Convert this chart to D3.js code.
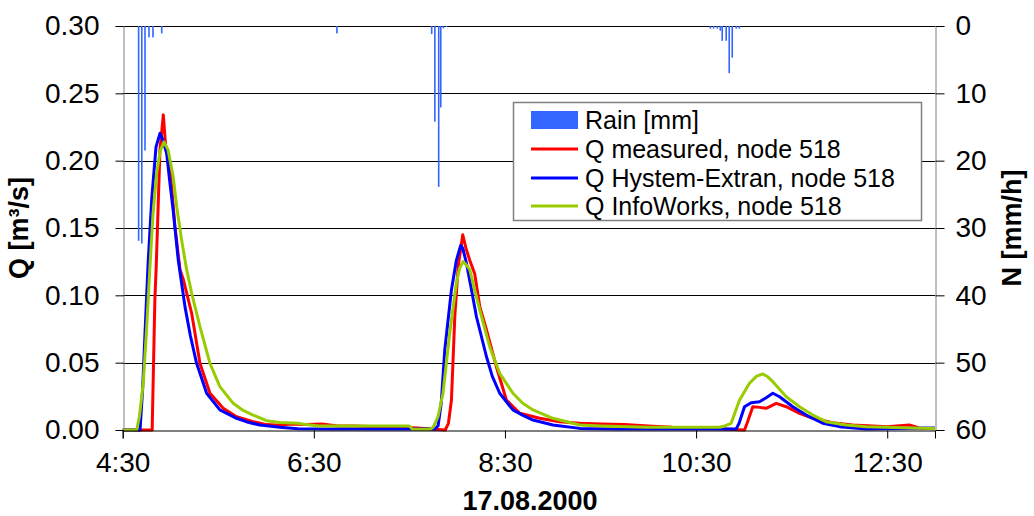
<!DOCTYPE html>
<html><head><meta charset="utf-8">
<script src="https://cdn.jsdelivr.net/npm/d3@7"></script>
<style>
html,body{margin:0;padding:0;background:#fff;}
svg{display:block;font-family:"Liberation Sans",Arial,sans-serif;}
</style></head>
<body>
<svg id="chart" width="1034" height="516"></svg>
<script>
// time in minutes since midnight, 17.08.2000
const xTickValues = [270, 390, 510, 630, 750];
const xTickLabels = ["4:30", "6:30", "8:30", "10:30", "12:30"];
const qTicks = [0, 0.05, 0.10, 0.15, 0.20, 0.25, 0.30];
const nTicks = [0, 10, 20, 30, 40, 50, 60];

// Rain intensity [mm/h]: [minute, value]
const rain = [
  [280,31.9],[282,32.3],[284,18.5],[286.5,1.7],[289,1.7],[294.5,1.1],[404.5,1.1],
  [464,1.2],[466,14.2],[468.4,23.9],[469.7,12.1],[471.4,0.35],[473.3,0.15],
  [639,0.4],[641,0.4],[643.3,0.4],[645.2,0.7],[646.4,2.2],[648.9,2.2],[650.8,7.0],[652.7,4.7],[655.2,0.4],[657.1,0.4]
];

const qMeasured = [
  [270,0],[288.5,0],[290.2,0.097],[291,0.12],[293.4,0.208],[295.5,0.234],[297,0.21],[299.7,0.195],[302.8,0.151],[306,0.119],[308,0.112],
  [313.3,0.0867],[318.5,0.0495],[324.8,0.0273],[333.1,0.0161],[341.5,0.0099],[351.9,0.0062],[360.3,0.004],[368.7,0.0035],[375,0.0045],
  [385,0.004],[395,0.0045],[405,0.003],[415,0.003],[430,0.0025],[445,0.002],[455,0.0015],[472.5,0],[474.5,0.005],[476.4,0.0223],
  [478.5,0.0841],[480.6,0.121],[483.5,0.145],[485.5,0.135],[487.9,0.126],[491,0.116],[494.2,0.0916],[498.4,0.0743],[504.6,0.047],
  [510.9,0.0223],[519.3,0.0124],[531.8,0.0087],[544.3,0.0062],[556.9,0.005],[570,0.0045],[585,0.004],[600,0.003],[615,0.002],
  [630,0.0015],[645,0.001],[660.4,0],[662,0.005],[665.6,0.0173],[670,0.0168],[674,0.0161],[680.3,0.0198],[686.6,0.0173],
  [694.9,0.0124],[703.3,0.0087],[715.8,0.0054],[728.3,0.0037],[740.9,0.003],[750,0.0025],[763.9,0.0037],[770,0.0015],[780,0.001]
];

const qHystem = [
  [270,0],[280.9,0],[282.5,0.03],[284,0.0718],[286,0.125],[288.2,0.171],[290.9,0.21],[293.4,0.2203],[295,0.216],[297.6,0.2055],
  [299.5,0.185],[301.7,0.163],[304.9,0.126],[309.1,0.0916],[312.5,0.07],[316.4,0.0495],[322.7,0.0273],[331,0.0149],[341.5,0.0087],
  [348,0.006],[356.1,0.0037],[368.7,0.002],[380,0.001],[400,0.0008],[440,0.0008],[466,0.0008],[468,0.003],[470,0.02],[472.2,0.0594],
  [476.4,0.104],[479.5,0.126],[482.2,0.137],[483.5,0.135],[485.8,0.124],[489,0.104],[492.1,0.0841],[498.4,0.0544],[502,0.04],
  [506.7,0.0273],[515,0.0149],[521,0.011],[527.6,0.0074],[540.1,0.0037],[556.9,0.0012],[580,0.0008],[655.2,0.0008],[657,0.005],
  [660.4,0.0173],[664.6,0.0203],[669.8,0.021],[674,0.024],[678.2,0.0273],[682.4,0.0247],[690.7,0.0173],[699.1,0.0111],
  [709.5,0.005],[720,0.0025],[736.7,0.0008],[780,0.0015]
];

const qInfoWorks = [
  [270,0],[278.8,0],[280.5,0.01],[282.9,0.0347],[285,0.075],[287.1,0.121],[289,0.16],[291.3,0.1906],[293.5,0.207],[295.9,0.214],
  [298.5,0.208],[301.7,0.188],[304,0.165],[307,0.141],[310,0.12],[313.3,0.1015],[318.5,0.0767],[324.8,0.0495],[331,0.0322],
  [339.4,0.0198],[345,0.015],[351.9,0.0111],[360.3,0.0069],[368.7,0.0055],[380,0.005],[385,0.004],[393,0.003],[450,0.003],
  [452,0.0005],[463,0.0005],[464.9,0.002],[468,0.01],[471.1,0.0273],[475.3,0.0718],[479.5,0.109],[481.5,0.12],[483.7,0.125],
  [485.5,0.123],[487.9,0.119],[491,0.104],[494.2,0.0891],[500.4,0.0619],[506.7,0.0421],[515,0.0273],[521,0.02],[527.6,0.0149],
  [540.1,0.0087],[556.9,0.0037],[570,0.003],[599,0.002],[644.8,0.002],[648,0.003],[652,0.005],[657.3,0.0223],[663.5,0.0347],
  [668,0.04],[671.9,0.0416],[675,0.0395],[678.2,0.0359],[686.6,0.0247],[694.9,0.0173],[703.3,0.0111],[711.6,0.0062],
  [724.2,0.0037],[736.7,0.0025],[778,0.0012],[780,0.0012]
];

const seriesNames = ["Rain [mm]", "Q measured, node 518", "Q Hystem-Extran, node 518", "Q InfoWorks, node 518"];
const seriesColors = ["#3366FF", "#FF0000", "#0000FF", "#99CC00"];

const svg = d3.select("#chart");
const L = 122.7, R = 935, T = 26, B = 430;
const x = d3.scaleLinear().domain([270, 780]).range([L, R]);
const y = d3.scaleLinear().domain([0, 0.30]).range([B, T]);
const yR = d3.scaleLinear().domain([0, 60]).range([T, B]);

// gridlines
svg.append("g").selectAll("line").data(qTicks.filter(d => d > 0)).join("line")
  .attr("x1", L).attr("x2", R).attr("y1", d => Math.round(y(d)) + 0.5).attr("y2", d => Math.round(y(d)) + 0.5)
  .attr("stroke", "#000").attr("stroke-width", 1);

// rain bars hanging from top
svg.append("g").selectAll("rect").data(rain).join("rect")
  .attr("x", d => x(d[0]) - 0.8).attr("width", 1.6)
  .attr("y", yR(0)).attr("height", d => yR(d[1]) - yR(0))
  .attr("fill", seriesColors[0]);

// lines
const line = d3.line().x(d => x(d[0])).y(d => y(d[1])).curve(d3.curveLinear);
[qMeasured, qHystem, qInfoWorks].forEach((s, i) => {
  svg.append("path").datum(s).attr("d", line).attr("fill", "none")
    .attr("stroke", seriesColors[i + 1]).attr("stroke-width", 3).attr("stroke-linejoin", "round");
});

// axes
const fs = 28;
const left = svg.append("g").attr("transform", `translate(${Math.round(L)+0.5},0)`)
  .call(d3.axisLeft(y).tickValues(qTicks).tickFormat(d3.format(".2f")).tickSize(8).tickPadding(16));
const right = svg.append("g").attr("transform", `translate(${Math.round(R)+0.5},0)`)
  .call(d3.axisRight(yR).tickValues(nTicks).tickFormat(d3.format("d")).tickSize(9).tickPadding(11));
const bottom = svg.append("g").attr("transform", `translate(0,${B+0.5})`)
  .call(d3.axisBottom(x).tickValues(xTickValues).tickFormat((d, i) => xTickLabels[i]).tickSize(8).tickPadding(14));
[left, right, bottom].forEach(g => {
  g.selectAll("text").attr("font-size", fs).attr("fill", "#000").attr("font-family", "Liberation Sans, Arial, sans-serif");
  g.selectAll("line").attr("stroke", "#000");
});
left.select(".domain").attr("stroke", "#808080");
right.select(".domain").attr("stroke", "#808080");
bottom.select(".domain").attr("stroke", "#000");

// axis titles
svg.append("text").attr("transform", "translate(28,228) rotate(-90)").attr("text-anchor", "middle")
  .attr("font-size", 27).attr("font-weight", "bold").text("Q [m³/s]");
svg.append("text").attr("transform", "translate(1021,228) rotate(-90)").attr("text-anchor", "middle")
  .attr("font-size", 27).attr("font-weight", "bold").text("N [mm/h]");
svg.append("text").attr("x", 530).attr("y", 510).attr("text-anchor", "middle")
  .attr("font-size", 27).attr("font-weight", "bold").text("17.08.2000");

// legend
const lg = svg.append("g");
lg.append("rect").attr("x", 513.5).attr("y", 102.5).attr("width", 408).attr("height", 118)
  .attr("fill", "#fff").attr("stroke", "#808080").attr("stroke-width", 1.5);
const rowY = [120, 149, 178, 206];
seriesNames.forEach((n, i) => {
  if (i === 0) {
    lg.append("rect").attr("x", 531).attr("y", rowY[i] - 9).attr("width", 47).attr("height", 18).attr("fill", seriesColors[0]);
  } else {
    lg.append("line").attr("x1", 531).attr("x2", 578).attr("y1", rowY[i]).attr("y2", rowY[i])
      .attr("stroke", seriesColors[i]).attr("stroke-width", 3);
  }
  lg.append("text").attr("x", 585).attr("y", rowY[i]).attr("dy", "0.35em").attr("font-size", 25).text(n);
});
</script>
</body></html>
